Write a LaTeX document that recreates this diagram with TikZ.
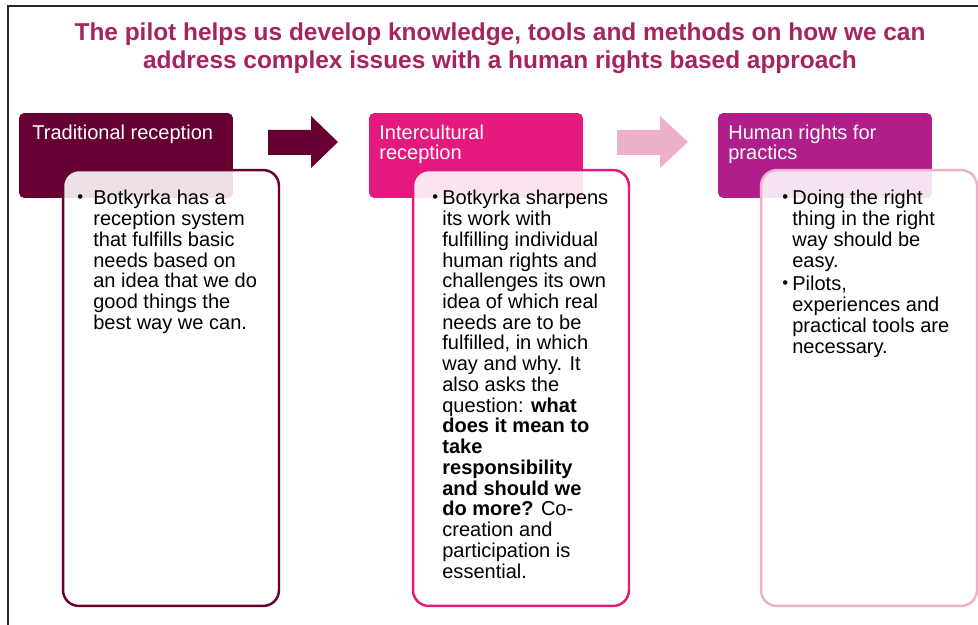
\documentclass[tikz,border=0pt]{standalone}
\usepackage{fontspec}
\setmainfont{Liberation Sans}

\definecolor{wine}{RGB}{102,0,51}
\definecolor{rose}{RGB}{229,25,125}
\definecolor{plum}{RGB}{176,30,140}
\definecolor{blush}{RGB}{236,176,202}
\definecolor{titlered}{RGB}{166,36,94}

\begin{document}
\begin{tikzpicture}[
x=0.02cm, y=-0.02cm,
headbox/.style={
    rectangle,
    rounded corners=3pt,
    minimum width=4.28cm,
    minimum height=1.7cm,
    inner sep=0pt
},
bodybox/.style={
    rectangle,
    draw,
    rounded corners=9pt,
    line width=1.4pt,
    fill=white,
    fill opacity=0.88,
    minimum width=4.32cm,
    minimum height=8.72cm,
    inner sep=0pt
},
headtext/.style={anchor=north west, inner sep=0pt, align=left, text=white,
    font=\fontsize{11.4}{11.4}\selectfont},
bodytext/.style={anchor=north west, inner sep=0pt, align=left,
    font=\fontsize{11.4}{11.8}\selectfont},
bul/.style={anchor=base west, inner sep=0pt, font=\fontsize{9.5}{11.8}\selectfont}
]
\useasboundingbox (0,0) rectangle (978,625);

% frame
\draw[line width=1.1pt, black!85] (978,6) -- (8,6) -- (8,625);

% title
\node[font=\fontsize{13.9}{16.2}\selectfont\bfseries, text=titlered, align=center]
    (title) at (500,48) {The pilot helps us develop knowledge, tools and methods on how we can\\
    address complex issues with a human rights based approach};

%---------------- Traditional ----------------
\node[headbox, fill=wine] (h1) at (126,155.5) {};
\node[bodybox, draw=wine] (b1) at (171,388) {};
\node[headtext] (t1) at (32,125) {Traditional reception};
\node[bul] (d1) at (77,203) {\textbullet};
\node[bodytext] (p1) at (93,190) {Botkyrka has a\\
reception system\\
that fulfills basic\\
needs based on\\
an idea that we do\\
good things the\\
best way we can.};

%---------------- Intercultural ----------------
\node[headbox, fill=rose] (h2) at (476,155.5) {};
\node[bodybox, draw=rose] (b2) at (521,388) {};
\node[headtext] (t2) at (379,125) {Intercultural\\reception};
\node[bul] (d2) at (432,203) {\textbullet};
\node[bodytext] (p2) at (442,190) {Botkyrka sharpens\\
its work with\\
fulfilling individual\\
human rights and\\
challenges its own\\
idea of which real\\
needs are to be\\
fulfilled, in which\\
way and why. It\\
also asks the\\
question: \textbf{what}\\
\textbf{does it mean to}\\
\textbf{take}\\
\textbf{responsibility}\\
\textbf{and should we}\\
\textbf{do more?} Co-\\
creation and\\
participation is\\
essential.};

%---------------- Human rights ----------------
\node[headbox, fill=plum] (h3) at (825,155.5) {};
\node[bodybox, draw=blush] (b3) at (869,388) {};
\node[headtext] (t3) at (728,125) {Human rights for\\practics};
\node[bul] (d3) at (782,203) {\textbullet};
\node[bodytext] (p3) at (792,190) {Doing the right\\
thing in the right\\
way should be\\
easy.};
\node[bul] (d4) at (782,289) {\textbullet};
\node[bodytext] (p4) at (792,276) {Pilots,\\
experiences and\\
practical tools are\\
necessary.};

% arrows between the stages
\fill[wine] (268,130) -- (311,130) -- (311,116) -- (338,142)
    -- (311,168) -- (311,155) -- (268,155) -- cycle;
\fill[blush] (617,130) -- (660,130) -- (660,116) -- (688,142)
    -- (660,168) -- (660,155) -- (617,155) -- cycle;

\end{tikzpicture}
\end{document}
